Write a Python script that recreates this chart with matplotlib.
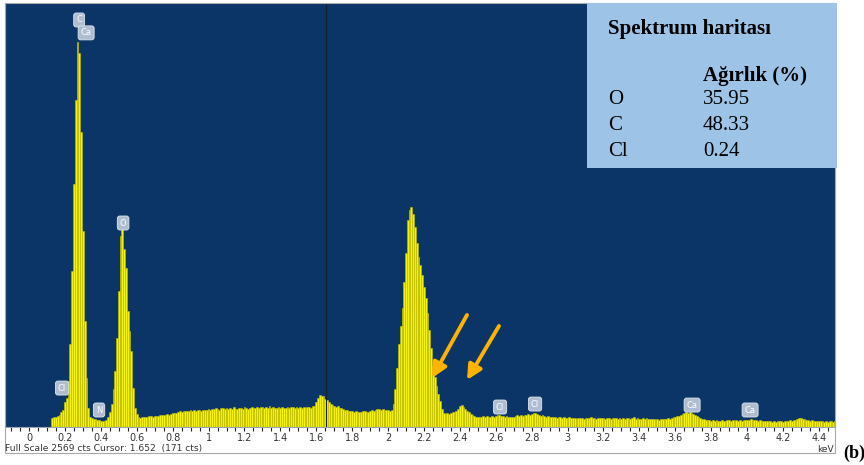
import numpy as np
import matplotlib.pyplot as plt
from matplotlib.patches import Rectangle

# EDS spectrum, 10 eV channels starting at 0.13 keV
e_start = 0.13
e_step = 0.01
counts = [
    55, 58, 62, 68, 75, 90, 100,
    150, 176, 280, 504, 947, 1475, 1979, 2331, 2264, 1785,
    1190, 643, 297, 115, 62, 55, 50, 46, 42, 40,
    36, 36, 38, 45, 60, 90, 140, 230, 340, 540,
    825, 1160, 1200, 1080, 965, 704, 580, 461, 237, 115,
    79, 62, 55, 58, 60, 62, 60, 64, 66, 63,
    65, 68, 66, 70, 72, 70, 74, 76, 73, 78,
    82, 86, 84, 90, 94, 92, 96, 95, 98, 94,
    100, 97, 102, 99, 104, 101, 98, 103, 100, 106,
    108, 104, 112, 109, 115, 111, 106, 113, 117, 110,
    114, 108, 116, 112, 119, 110, 107, 115, 118, 112,
    120, 115, 111, 118, 122, 116, 113, 121, 117, 124,
    119, 114, 122, 118, 125, 116, 120, 113, 117, 121,
    116, 122, 118, 113, 120, 117, 124, 119, 115, 121,
    118, 123, 116, 120, 114, 119, 122, 117, 125, 130,
    150, 175, 195, 185, 190, 171, 165, 150, 140, 135,
    128, 120, 125, 118, 115, 108, 104, 100, 96, 98,
    94, 92, 95, 90, 93, 91, 94, 96, 92, 89,
    95, 100, 97, 103, 108, 112, 104, 110, 106, 100,
    100, 98, 105, 140, 230, 360, 500, 610, 720, 880,
    1054, 1254, 1315, 1333, 1290, 1210, 1115, 1030, 980, 920,
    848, 780, 690, 590, 480, 370, 300, 250, 200, 160,
    110, 85, 80, 82, 78, 85, 92, 88, 95, 110,
    130, 133, 120, 108, 98, 90, 80, 72, 66, 60,
    58, 62, 60, 64, 61, 66, 63, 60, 65, 62,
    66, 70, 75, 68, 64, 62, 66, 60, 58, 63,
    61, 66, 70, 64, 72, 68, 75, 70, 78, 73,
    80, 84, 86, 78, 72, 66, 70, 64, 62, 66,
    60, 63, 58, 62, 56, 60, 58, 55, 59, 57,
    54, 58, 52, 56, 55, 50, 57, 53, 55, 51,
    56, 52, 54, 58, 53, 55, 50, 54, 57, 52,
    55, 51, 56, 53, 49, 54, 52, 56, 50, 53,
    51, 55, 48, 52, 54, 50, 53, 58, 49, 52,
    50, 47, 52, 48, 55, 51, 46, 50, 48, 45,
    48, 44, 47, 50, 46, 49, 52, 48, 55, 58,
    60, 64, 68, 72, 78, 84, 88, 82, 90, 86,
    80, 74, 66, 60, 54, 50, 46, 44, 40, 42,
    38, 41, 37, 40, 36, 39, 42, 38, 35, 40,
    44, 38, 41, 36, 40, 37, 42, 39, 43, 40,
    45, 42, 48, 44, 40, 43, 38, 41, 36, 39,
    35, 38, 34, 37, 33, 36, 32, 35, 34, 37,
    33, 36, 38, 35, 40, 37, 42, 45, 48, 52,
    55, 50, 46, 42, 44, 38, 41, 36, 39, 35,
    37, 34, 36, 33, 35, 32, 36, 34, 33, 35,
]
energy = e_start + e_step * np.arange(len(counts))

full_scale = 2569
cursor_kev = 1.652

# peak markers (element, keV, counts)
peak_labels = ['C', 'Ca', 'O', 'Cl', 'N', 'Cl', 'Cl', 'Ca', 'Ca']
peak_kev = [0.279, 0.318, 0.524, 0.184, 0.39, 2.624, 2.819, 3.694, 4.017]
peak_cts = [2466, 2388, 1236, 236, 103, 121, 139, 133, 103]

# weight table
elements = ['O', 'C', 'Cl']
weights = ['35.95', '48.33', '0.24']

W, H = 864, 465


def fx(x):
    return x / W


def fy(y):
    return 1 - y / H


fig = plt.figure(figsize=(W / 100, H / 100), dpi=100)
fig.patch.set_facecolor('white')
ax = fig.add_axes([fx(5), fy(427), 830 / W, 424 / H])
ax.set_facecolor('#0a3566')

ax.bar(energy, counts, width=e_step, color='#f4f400', edgecolor='#c2bd00',
       linewidth=0.4, align='center')
ax.axvline(cursor_kev, color='#15202e', lw=0.8)

ax.set_xlim(-0.134, 4.49)
ax.set_ylim(0, full_scale)
ax.set_yticks([])
ax.set_xticks(np.arange(0, 4.41, 0.2))
ax.set_xticklabels(['0', '0.2', '0.4', '0.6', '0.8', '1', '1.2', '1.4', '1.6', '1.8', '2',
                    '2.2', '2.4', '2.6', '2.8', '3', '3.2', '3.4', '3.6', '3.8', '4',
                    '4.2', '4.4'])
ax.set_xticks(np.arange(-0.1, 4.49, 0.05), minor=True)
ax.tick_params(axis='x', which='both', direction='out', length=3, width=0.8,
               color='#222222', labelsize=7, labelcolor='#333333', pad=1.5)
for s in ['top', 'right']:
    ax.spines[s].set_visible(False)
ax.spines['left'].set_color('#9aa4b0')
ax.spines['bottom'].set_color('#9aa4b0')

for lab, k, c in zip(peak_labels, peak_kev, peak_cts):
    ax.text(k, c, lab, ha='center', va='center', fontsize=6, color='white',
            bbox=dict(boxstyle='round,pad=0.3', fc='#aebdd0', ec='#dfe6ee', lw=0.6))

# frame round the spectrum window
fig.add_artist(Rectangle((fx(5), fy(453)), 830 / W, 450 / H, transform=fig.transFigure,
                         fill=False, ec='#a8a8a8', lw=0.8))

fig.text(fx(5), fy(448.5), 'Full Scale 2569 cts Cursor: 1.652  (171 cts)', fontsize=6.6,
         color='#333333', va='center')
fig.text(fx(834), fy(449), 'keV', fontsize=6.5, color='#333333', ha='right', va='center')

# weight table box
fig.add_artist(Rectangle((fx(587), fy(168)), 250 / W, 165 / H, transform=fig.transFigure,
                         fc='#9dc3e6', ec='none'))
serif = ['Liberation Serif', 'DejaVu Serif']
fig.text(fx(608), fy(29), 'Spektrum haritası', fontsize=15, fontweight='bold',
         family=serif, va='center')
fig.text(fx(703), fy(76), 'Ağırlık (%)', fontsize=15, fontweight='bold',
         family=serif, va='center')
for i, (el, w) in enumerate(zip(elements, weights)):
    yy = 100 + i * 25.5
    fig.text(fx(608), fy(yy), el, fontsize=15, family=serif, va='center')
    fig.text(fx(703), fy(yy), w, fontsize=15, family=serif, va='center')

# arrows
for tail, tip in [((467, 315), (432, 378)), ((499, 326), (467, 380))]:
    ax.annotate('', xy=(fx(tip[0]), fy(tip[1])), xytext=(fx(tail[0]), fy(tail[1])),
                xycoords='figure fraction', textcoords='figure fraction',
                arrowprops=dict(arrowstyle='-|>', color='#ffb300', lw=2.8,
                                mutation_scale=22, shrinkA=0, shrinkB=0))

fig.text(fx(843), fy(453), '(b)', fontsize=13, fontweight='bold', family=serif,
         va='center')

fig.savefig('out.png', dpi=100, facecolor='white')
